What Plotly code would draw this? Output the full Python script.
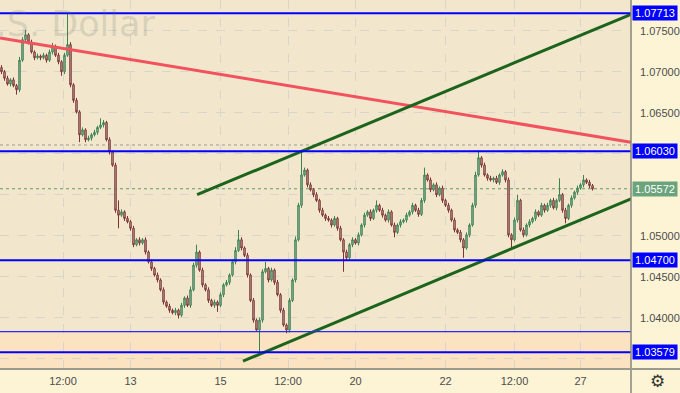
import plotly.graph_objects as go

# ---------------- data ----------------
closes = [
    1.0700, 1.0692, 1.0685, 1.0690, 1.0683, 1.0678, 1.0714, 1.0739, 1.0745, 1.0736,
    1.0724, 1.0717, 1.0719, 1.0717, 1.0720, 1.0714, 1.0724, 1.0731, 1.0720, 1.0712,
    1.0700, 1.0720, 1.0733, 1.0684, 1.0665, 1.0651, 1.0623, 1.0629, 1.0617, 1.0619,
    1.0623, 1.0626, 1.0632, 1.0635, 1.0638, 1.0617, 1.0602, 1.0586, 1.0531, 1.0525,
    1.0529, 1.0521, 1.0517, 1.0509, 1.0489, 1.0495, 1.0491, 1.0495, 1.0480, 1.0468,
    1.0460, 1.0452, 1.0446, 1.0434, 1.0419, 1.0414, 1.0409, 1.0406, 1.0409, 1.0403,
    1.0415, 1.0424, 1.0415, 1.0434, 1.0464, 1.0480, 1.0458, 1.0440, 1.0434, 1.0421,
    1.0415, 1.0419, 1.0415, 1.0428, 1.0440, 1.0443, 1.0452, 1.0468, 1.0482, 1.0495,
    1.0485, 1.0476, 1.0452, 1.0421, 1.0397, 1.0385, 1.0397, 1.0456, 1.0460, 1.0446,
    1.0458, 1.0443, 1.0428, 1.0409, 1.0391, 1.0385, 1.0421, 1.0446, 1.0495, 1.0537,
    1.0574, 1.0580, 1.0562, 1.0556, 1.0550, 1.0543, 1.0531, 1.0525, 1.0521, 1.0519,
    1.0513, 1.0521, 1.0509, 1.0495, 1.0480, 1.0473, 1.0489, 1.0495, 1.0491, 1.0501,
    1.0513, 1.0525, 1.0529, 1.0521, 1.0531, 1.0537, 1.0531, 1.0525, 1.0519, 1.0529,
    1.0513, 1.0504, 1.0513, 1.0517, 1.0519, 1.0525, 1.0529, 1.0537, 1.0531, 1.0526,
    1.0543, 1.0574, 1.0568, 1.0556, 1.0562, 1.0550, 1.0558, 1.0543, 1.0537, 1.0531,
    1.0519, 1.0507, 1.0504, 1.0495, 1.0485, 1.0501, 1.0513, 1.0537, 1.0574, 1.0595,
    1.0586, 1.0574, 1.0570, 1.0568, 1.0570, 1.0565, 1.0574, 1.0578, 1.0568, 1.0501,
    1.0495, 1.0519, 1.0543, 1.0507, 1.0501, 1.0513, 1.0517, 1.0521, 1.0529, 1.0525,
    1.0537, 1.0531, 1.0537, 1.0543, 1.0534, 1.0543, 1.0550, 1.0531, 1.0521, 1.0537,
    1.0546, 1.0553, 1.0558, 1.0562, 1.0568, 1.0565, 1.0561, 1.0557,
]
first_open = 1.0705

# wick lengths in pips above / below the candle body
wick_hi = [
    3, 2, 3, 2, 3, 2, 4, 3, 6, 2,
    3, 2, 3, 2, 3, 2, 3, 4, 2, 3,
    2, 3, 38, 3, 2, 3, 2, 3, 2, 3,
    2, 3, 2, 8, 3, 2, 3, 2, 3, 12,
    3, 2, 3, 2, 3, 2, 3, 2, 3, 2,
    3, 2, 3, 2, 3, 2, 3, 2, 3, 2,
    3, 2, 3, 4, 3, 9, 2, 3, 2, 3,
    2, 3, 2, 3, 2, 3, 2, 3, 4, 12,
    3, 2, 3, 2, 3, 2, 3, 3, 8, 2,
    3, 2, 3, 2, 3, 2, 3, 2, 4, 3,
    29, 3, 2, 3, 2, 3, 2, 3, 2, 3,
    2, 3, 2, 3, 2, 3, 2, 3, 2, 3,
    2, 3, 2, 3, 2, 6, 2, 3, 2, 3,
    2, 3, 2, 3, 2, 3, 2, 3, 2, 3,
    3, 9, 2, 3, 2, 3, 2, 3, 2, 3,
    2, 3, 2, 3, 2, 3, 2, 3, 4, 9,
    2, 3, 2, 3, 2, 3, 2, 3, 2, 3,
    2, 3, 7, 2, 3, 2, 3, 2, 3, 2,
    3, 2, 3, 2, 3, 2, 20, 2, 3, 2,
    3, 2, 3, 2, 6, 2, 3, 2,
]
wick_lo = [
    3, 3, 2, 3, 2, 6, 3, 2, 3, 3,
    2, 3, 2, 3, 2, 3, 2, 3, 2, 3,
    5, 3, 2, 3, 3, 2, 9, 2, 3, 2,
    3, 2, 3, 2, 3, 2, 3, 2, 3, 16,
    2, 3, 2, 3, 3, 2, 3, 2, 3, 2,
    3, 2, 3, 2, 3, 2, 3, 2, 3, 4,
    2, 3, 2, 3, 2, 3, 2, 3, 2, 3,
    2, 3, 8, 2, 3, 2, 3, 2, 3, 2,
    3, 2, 3, 2, 3, 2, 27, 3, 2, 3,
    2, 3, 2, 3, 2, 4, 3, 2, 3, 2,
    3, 2, 3, 2, 3, 2, 3, 2, 3, 2,
    3, 2, 3, 2, 24, 3, 2, 3, 2, 3,
    2, 3, 2, 3, 2, 3, 2, 3, 2, 3,
    2, 6, 2, 3, 2, 3, 2, 3, 2, 3,
    2, 3, 2, 3, 2, 3, 2, 3, 2, 3,
    2, 3, 2, 3, 12, 2, 3, 2, 3, 2,
    3, 2, 3, 2, 3, 2, 3, 2, 3, 3,
    9, 2, 3, 2, 3, 2, 3, 2, 3, 2,
    2, 3, 2, 3, 2, 3, 2, 3, 6, 2,
    3, 2, 3, 2, 3, 2, 3, 2,
]

x_tick_pos = [20.5, 43, 73, 95.5, 118, 148, 171, 193]
x_tick_text = ["12:00", "13", "15", "12:00", "20", "22", "12:00", "27"]

# labels hidden behind the price boxes are left empty (grid lines stay)
y_tick_vals = [1.035, 1.040, 1.045, 1.050, 1.055, 1.060, 1.065, 1.070, 1.075]
y_tick_text = ["", "1.04000", "1.04500", "1.05000", "",
               "", "1.06500", "1.07000", "1.07500"]

levels = [1.07713, 1.06030, 1.04700, 1.03579]
thin_level = 1.0383
last_price = 1.05572
prev_high = 1.06106

red_x = [-0.5, 209.83]
red_y = [1.0741, 1.0614]
green_up_x = [65.2, 209.83]
green_up_y = [1.0550, 1.0770]
green_lo_x = [80.5, 209.83]
green_lo_y = [1.0347, 1.0545]

x_range = [-0.5, 209.83]
y_range = [1.03374, 1.07874]

# ---------------- build ----------------
opens = [first_open] + closes[:-1]
highs = [max(o, c) + h * 0.0001 for o, c, h in zip(opens, closes, wick_hi)]
lows = [min(o, c) - l * 0.0001 for o, c, l in zip(opens, closes, wick_lo)]
xs = list(range(len(closes)))

PLOT_BG = "#f2e7cc"
PAPER_BG = "#fdf4d6"
BLUE = "#0000ff"

fig = go.Figure()

fig.add_trace(go.Candlestick(
    x=xs, open=opens, high=highs, low=lows, close=closes,
    increasing=dict(line=dict(color="#3a8352", width=1), fillcolor="#aab3a4"),
    decreasing=dict(line=dict(color="#7e3434", width=1), fillcolor="#bab1a9"),
    whiskerwidth=0, showlegend=False, hoverinfo="skip",
))

fig.add_trace(go.Scatter(x=red_x, y=red_y, mode="lines",
                         line=dict(color="#f2525e", width=3), showlegend=False, hoverinfo="skip"))
fig.add_trace(go.Scatter(x=green_up_x, y=green_up_y, mode="lines",
                         line=dict(color="#1c641c", width=3), showlegend=False, hoverinfo="skip"))
fig.add_trace(go.Scatter(x=green_lo_x, y=green_lo_y, mode="lines",
                         line=dict(color="#1c641c", width=3), showlegend=False, hoverinfo="skip"))

shapes = []
# orange zone
shapes.append(dict(type="rect", xref="x", yref="y", x0=x_range[0], x1=x_range[1],
                   y0=y_range[0], y1=thin_level, fillcolor="#fbe3c2", line=dict(width=0),
                   layer="below"))
shapes.append(dict(type="line", xref="x", yref="y", x0=x_range[0], x1=x_range[1],
                   y0=thin_level, y1=thin_level, line=dict(color="#2a2aff", width=1.2), layer="above"))
for lv in levels:
    shapes.append(dict(type="line", xref="x", yref="y", x0=x_range[0], x1=x_range[1],
                       y0=lv, y1=lv, line=dict(color=BLUE, width=2), layer="above"))
shapes.append(dict(type="line", xref="x", yref="y", x0=x_range[0], x1=x_range[1],
                   y0=prev_high, y1=prev_high, line=dict(color="#9b9b94", width=1, dash="dot"),
                   layer="below"))
shapes.append(dict(type="line", xref="x", yref="y", x0=x_range[0], x1=x_range[1],
                   y0=last_price, y1=last_price, line=dict(color="#5f9a6a", width=1, dash="dot"),
                   layer="below"))
# separators
shapes.append(dict(type="line", xref="paper", yref="paper", x0=1, x1=1, y0=-24 / 369, y1=1,
                   line=dict(color="#86867c", width=1.5)))
shapes.append(dict(type="line", xref="paper", yref="paper", x0=0, x1=680 / 631, y0=0, y1=0,
                   line=dict(color="#9a9a8e", width=2)))

annotations = []
for lv in levels:
    annotations.append(dict(xref="paper", yref="y", x=1, y=lv, xanchor="left", yanchor="middle",
                            xshift=1, text=f"{lv:.5f}", showarrow=False, bgcolor=BLUE,
                            font=dict(color="white", size=11, family="Liberation Sans"),
                            width=42, height=12, borderpad=1))
annotations.append(dict(xref="paper", yref="y", x=1, y=last_price, xanchor="left", yanchor="middle",
                        xshift=1, text=f"{last_price:.5f}", showarrow=False, bgcolor="#6aa37c",
                        font=dict(color="white", size=11, family="Liberation Sans"),
                        width=42, height=12, borderpad=1))
annotations.append(dict(xref="paper", yref="paper", x=157 / 631, y=1 - 24 / 369,
                        xanchor="right", yanchor="middle", text="U.S. Dollar", showarrow=False,
                        font=dict(color="rgba(110,110,110,0.2)", size=35, family="DejaVu Sans")))
annotations.append(dict(xref="paper", yref="paper", x=657 / 631, y=-12 / 369,
                        xanchor="center", yanchor="middle", text="⚙", showarrow=False,
                        font=dict(color="#333333", size=17, family="DejaVu Sans")))

fig.update_layout(
    width=680, height=393,
    margin=dict(l=0, r=49, t=0, b=24),
    paper_bgcolor=PAPER_BG, plot_bgcolor=PLOT_BG,
    shapes=shapes, annotations=annotations,
    showlegend=False,
    xaxis=dict(range=x_range, tickvals=x_tick_pos, ticktext=x_tick_text,
               showgrid=True, gridcolor="#d9d5c8", griddash="dash", gridwidth=1,
               zeroline=False, showline=False, ticks="",
               tickfont=dict(size=11, color="#4d4d4d", family="Liberation Sans"),
               ticklabelstandoff=4, rangeslider=dict(visible=False), fixedrange=True),
    yaxis=dict(range=y_range, side="right", tickvals=y_tick_vals, ticktext=y_tick_text,
               showgrid=True, gridcolor="#d9d5c8", griddash="dash", gridwidth=1,
               zeroline=False, showline=False, ticks="",
               tickfont=dict(size=11, color="#4d4d4d", family="Liberation Sans"),
               ticklabelstandoff=8, fixedrange=True),
)

fig.write_html("out.html")
